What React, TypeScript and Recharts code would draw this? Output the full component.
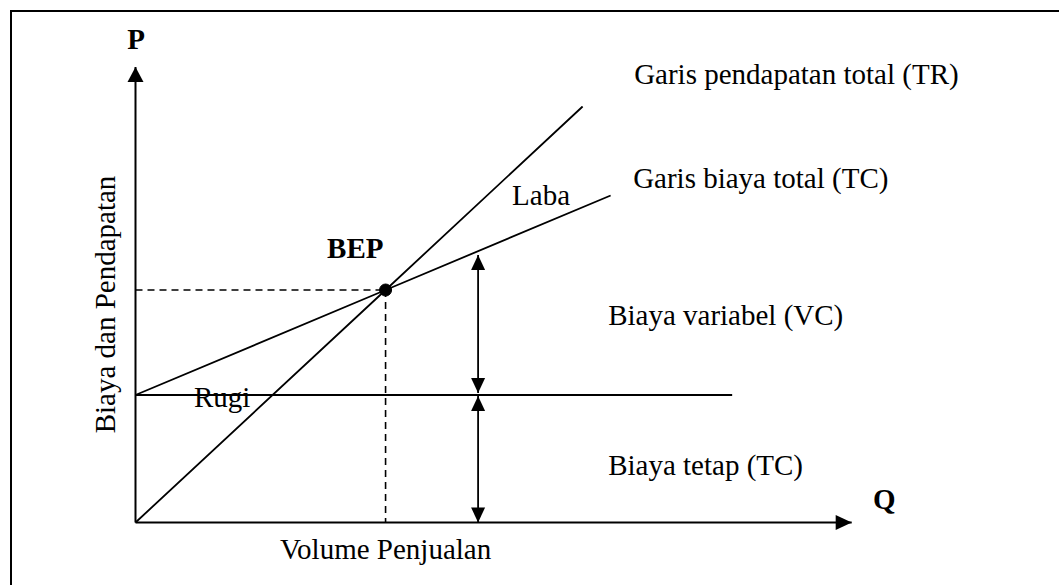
import React from 'react';
import { ComposedChart, Line, XAxis, YAxis, ReferenceDot } from 'recharts';

// quantity (Q) and cost / revenue (P) values
const trQ = [0, 50, 89.4];
const trP = [0, 46.5, 83.2];
const tcQ = [0, 50, 95];
const tcP = [25.5, 46.5, 65.4];
const fcQ = [0, 119.3];
const fcP = [25.5, 25.5];
const bepQ = 50;
const bepP = 46.5;
const arrowQ = 68.5;
const vcArrowP = [53.5, 25.9];
const fcArrowP = [25.3, 0];
const qMax = 143.2;
const pMax = 91.1;

const plainText = ['Garis pendapatan total (TR)', 'Garis biaya total (TC)', 'Laba', 'Biaya variabel (VC)', 'Biaya tetap (TC)', 'Rugi'];
const plainQ = [99.7, 99.5, 75.3, 94.5, 94.5, 11.7];
const plainP = [87.7, 66.9, 63.5, 39.5, 9.5, 23.2];

const FONT = '"Liberation Serif", "Times New Roman", serif';

const rows = (qs: number[], ps: number[]) => qs.map((q, i) => ({ q, p: ps[i] }));

const arrowHead = (dir: 'up' | 'down' | 'right', len = 15, half = 7) => (props: any) => {
  const { cx, cy } = props;
  let d = '';
  if (dir === 'up') d = `M${cx},${cy} L${cx - half},${cy + len} L${cx + half},${cy + len} Z`;
  if (dir === 'down') d = `M${cx},${cy} L${cx - half},${cy - len} L${cx + half},${cy - len} Z`;
  if (dir === 'right') d = `M${cx},${cy} L${cx - len},${cy - half} L${cx - len},${cy + half} Z`;
  return <path d={d} fill="#000" stroke="none" />;
};

const textShape = (text: string, opts: { bold?: boolean; anchor?: string; rotate?: boolean } = {}) => (props: any) => {
  const { cx, cy } = props;
  return (
    <text
      x={cx}
      y={cy}
      fontFamily={FONT}
      fontSize={29}
      fontWeight={opts.bold ? 'bold' : 'normal'}
      textAnchor={opts.anchor || 'start'}
      fill="#000"
      transform={opts.rotate ? `rotate(-90, ${cx}, ${cy})` : undefined}
    >
      {text}
    </text>
  );
};

const lineProps = {
  type: 'linear' as const,
  dataKey: 'p',
  stroke: '#000',
  strokeWidth: 1.8,
  dot: false,
  activeDot: false,
  isAnimationActive: false,
};

export default function App() {
  return (
    <div style={{ position: 'absolute', left: 0, top: 0, width: 1059, height: 585, background: '#fff', overflow: 'hidden' }}>
      <div
        style={{
          position: 'absolute',
          left: 10,
          top: 10,
          width: 1047,
          height: 573,
          borderTop: '2px solid #000',
          borderLeft: '2px solid #000',
        }}
      />
      <div style={{ position: 'absolute', left: 0, top: 0 }}>
        <ComposedChart width={1059} height={585} margin={{ top: 67, right: 207.3, bottom: 42.5, left: 115.5 }}>
          <XAxis
            type="number"
            dataKey="q"
            domain={[0, qMax]}
            tick={false}
            tickLine={false}
            height={20}
            axisLine={{ stroke: '#000', strokeWidth: 2 }}
          />
          <YAxis
            type="number"
            domain={[0, pMax]}
            tick={false}
            tickLine={false}
            width={20}
            axisLine={{ stroke: '#000', strokeWidth: 2 }}
          />

          <Line {...lineProps} data={rows(trQ, trP)} />
          <Line {...lineProps} data={rows(tcQ, tcP)} />
          <Line {...lineProps} data={rows(fcQ, fcP)} />
          <Line {...lineProps} strokeWidth={1.6} strokeDasharray="7 5" data={rows([0, bepQ], [bepP, bepP])} />
          <Line {...lineProps} strokeWidth={1.6} strokeDasharray="7 5" data={rows([bepQ, bepQ], [bepP, 0])} />
          <Line {...lineProps} data={rows([arrowQ, arrowQ], vcArrowP)} />
          <Line {...lineProps} data={rows([arrowQ, arrowQ], fcArrowP)} />

          <ReferenceDot x={bepQ} y={bepP} r={6} fill="#000" stroke="#000" ifOverflow="visible" />

          <ReferenceDot x={0} y={pMax} ifOverflow="visible" shape={arrowHead('up', 15, 8)} />
          <ReferenceDot x={qMax} y={0} ifOverflow="visible" shape={arrowHead('right', 16, 7.5)} />
          <ReferenceDot x={arrowQ} y={vcArrowP[0]} ifOverflow="visible" shape={arrowHead('up')} />
          <ReferenceDot x={arrowQ} y={vcArrowP[1]} ifOverflow="visible" shape={arrowHead('down')} />
          <ReferenceDot x={arrowQ} y={fcArrowP[0]} ifOverflow="visible" shape={arrowHead('up')} />
          <ReferenceDot x={arrowQ} y={fcArrowP[1]} ifOverflow="visible" shape={arrowHead('down')} />

          {plainText.map((t, i) => (
            <ReferenceDot key={t} x={plainQ[i]} y={plainP[i]} ifOverflow="visible" shape={textShape(t)} />
          ))}
          <ReferenceDot x={38.3} y={52.9} ifOverflow="visible" shape={textShape('BEP', { bold: true })} />
          <ReferenceDot x={0.1} y={94.7} ifOverflow="visible" shape={textShape('P', { bold: true, anchor: 'middle' })} />
          <ReferenceDot x={149.7} y={2.7} ifOverflow="visible" shape={textShape('Q', { bold: true, anchor: 'middle' })} />
          <ReferenceDot x={bepQ} y={-7.2} ifOverflow="visible" shape={textShape('Volume Penjualan', { anchor: 'middle' })} />
          <ReferenceDot x={-4} y={43.6} ifOverflow="visible" shape={textShape('Biaya dan Pendapatan', { anchor: 'middle', rotate: true })} />
        </ComposedChart>
      </div>
    </div>
  );
}
